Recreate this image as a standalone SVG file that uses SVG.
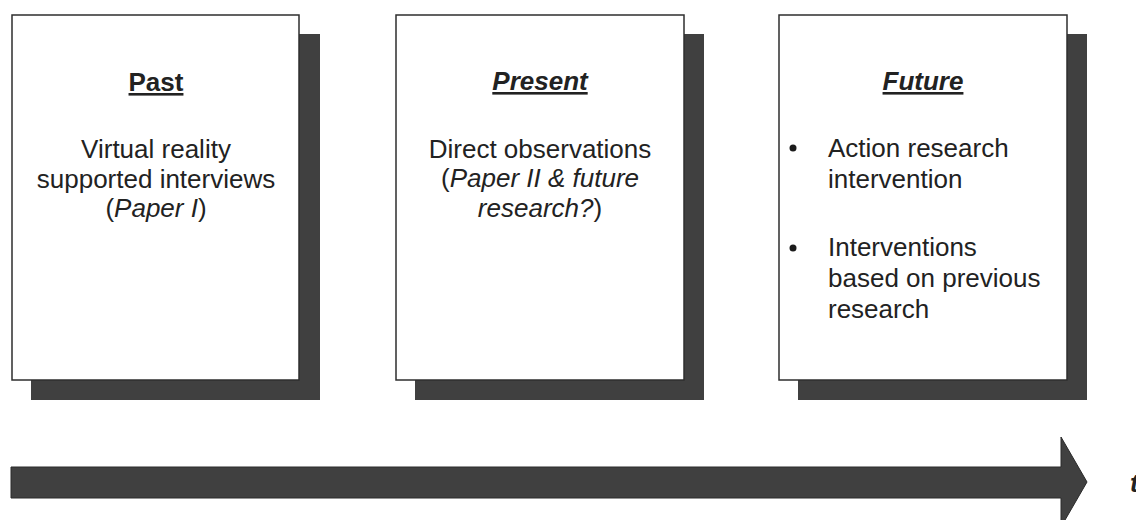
<svg xmlns="http://www.w3.org/2000/svg" width="1136" height="520" viewBox="0 0 1136 520">
<style>
.shadow{fill:#404040;}
.box{fill:#ffffff;stroke:#2e2e2e;stroke-width:1.5;}
.t{font-family:"Liberation Sans",Arial,sans-serif;font-size:26px;fill:#222222;}
.c{text-anchor:middle;}
.h{font-weight:bold;text-decoration:underline;}
.i{font-style:italic;}
.bul{fill:#1a1a1a;}
.arrow{fill:#404040;stroke:#2a2a2a;stroke-width:1;}
</style>
<rect width="1136" height="520" fill="#ffffff"/>
<g id="past">
<rect class="shadow" x="31" y="34" width="289" height="366"/>
<rect class="box" x="12" y="15" width="287" height="365"/>
<text class="t c h" x="156" y="91">Past</text>
<text class="t c" x="156" y="158">Virtual reality</text>
<text class="t c" x="156" y="188">supported interviews</text>
<text class="t c" x="156" y="217">(<tspan class="i">Paper I</tspan>)</text>
</g>
<g id="present">
<rect class="shadow" x="415" y="34" width="289" height="366"/>
<rect class="box" x="396" y="15" width="288" height="365"/>
<text class="t c h i" x="540" y="90">Present</text>
<text class="t c" x="540" y="158">Direct observations</text>
<text class="t c" x="540" y="187">(<tspan class="i">Paper II &amp; future</tspan></text>
<text class="t c" x="540" y="217"><tspan class="i">research?</tspan>)</text>
</g>
<g id="future">
<rect class="shadow" x="798" y="34" width="289" height="366"/>
<rect class="box" x="779" y="15" width="288" height="365"/>
<text class="t c h i" x="923" y="90">Future</text>
<circle class="bul" cx="793" cy="148" r="3.5"/>
<text class="t" x="828" y="157">Action research</text>
<text class="t" x="828" y="188">intervention</text>
<circle class="bul" cx="793" cy="248" r="3.5"/>
<text class="t" x="828" y="256">Interventions</text>
<text class="t" x="828" y="287">based on previous</text>
<text class="t" x="828" y="318">research</text>
</g>
<g id="connectors">
<path class="arrow" d="M11,467 L1061,467 L1061,437 L1087,482 L1061,527 L1061,498 L11,498 Z"/>
</g>
<g id="axis-label">
<text class="t i" x="1130" y="492" style="font-weight:bold">t</text>
</g>
</svg>
